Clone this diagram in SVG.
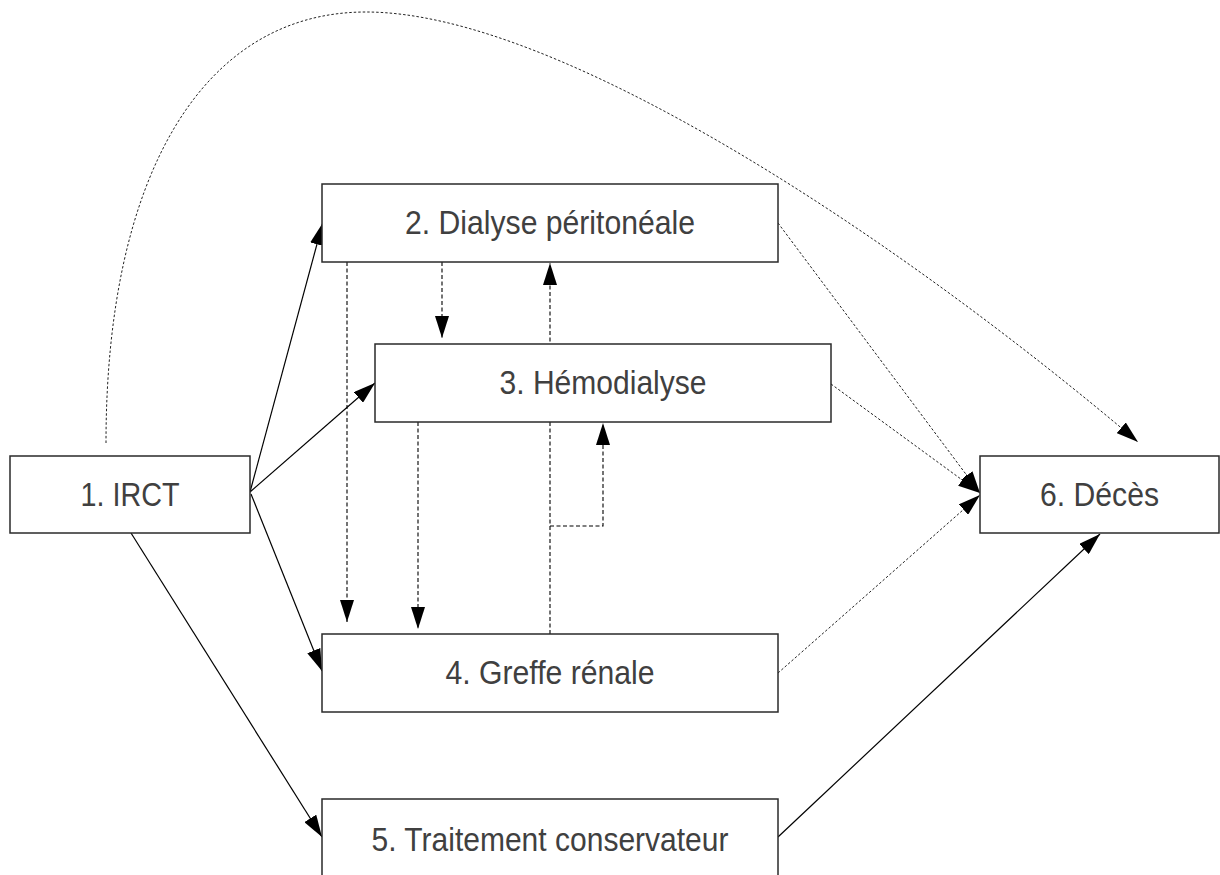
<svg xmlns="http://www.w3.org/2000/svg" width="1220" height="875" viewBox="0 0 1220 875">
  <defs>
    <marker id="arr" viewBox="0 0 22 14" refX="22" refY="7" markerWidth="22" markerHeight="14" markerUnits="userSpaceOnUse" orient="auto">
      <path d="M0,0 L22,7 L0,14 z" fill="#000"/>
    </marker>
    <style>
      .box { fill: #fff; stroke: #2a2a2a; stroke-width: 1.5; }
      .lbl { font-family: "Liberation Sans", Arial, sans-serif; font-size: 33px; fill: #404040; text-anchor: middle; }
      .solid { fill: none; stroke: #000; stroke-width: 1.2; marker-end: url(#arr); }
      .dash { fill: none; stroke: #000; stroke-width: 1.1; stroke-dasharray: 4 2.5; marker-end: url(#arr); }
      .dot { fill: none; stroke: #222; stroke-width: 1; stroke-dasharray: 2.5 2; marker-end: url(#arr); }
    </style>
  </defs>
  <rect width="1220" height="875" fill="#fff"/>
  <g id="connectors">
    <path id="e12" class="solid" d="M250,492 L322.7,223"/>
    <path id="e13" class="solid" d="M250,492 L375,383"/>
    <path id="e14" class="solid" d="M251,494 L322,671"/>
    <path id="e15" class="solid" d="M131,533 L322,837"/>
    <path id="e56" class="solid" d="M778,837 L1100,534"/>
    <path id="e23" class="dash" d="M442,262 L442,338"/>
    <path id="e24" class="dash" d="M347,262 L347,622"/>
    <path id="e34" class="dash" d="M418,422 L418,629"/>
    <path id="e42" class="dash" d="M550,634 L550,263"/>
    <path id="e43" class="dash" d="M550,526 L603,526 L603,423"/>
    <path id="e26" class="dot" d="M778,223 L980,493"/>
    <path id="e36" class="dot" d="M831,384 L980,493"/>
    <path id="e46" class="dot" d="M778,673 L980,495"/>
    <path id="e16" class="dot" d="M106,443 C106,180 200,12 366,12 C560,12 900,240 1138,442"/>
  </g>
  <g id="n1">
    <rect class="box" x="10" y="456" width="240" height="77"/>
    <text class="lbl" x="130" y="505.5" textLength="99" lengthAdjust="spacingAndGlyphs">1. IRCT</text>
  </g>
  <g id="n2">
    <rect class="box" x="322" y="184" width="456" height="78"/>
    <text class="lbl" x="550" y="234" textLength="290" lengthAdjust="spacingAndGlyphs">2. Dialyse péritonéale</text>
  </g>
  <g id="n3">
    <rect class="box" x="375" y="344" width="456" height="78"/>
    <text class="lbl" x="603" y="394" textLength="207" lengthAdjust="spacingAndGlyphs">3. Hémodialyse</text>
  </g>
  <g id="n4">
    <rect class="box" x="322" y="634" width="456" height="78"/>
    <text class="lbl" x="550" y="684" textLength="209" lengthAdjust="spacingAndGlyphs">4. Greffe rénale</text>
  </g>
  <g id="n5">
    <rect class="box" x="322" y="799" width="456" height="80"/>
    <text class="lbl" x="550" y="851" textLength="357" lengthAdjust="spacingAndGlyphs">5. Traitement conservateur</text>
  </g>
  <g id="n6">
    <rect class="box" x="980" y="456" width="239" height="77"/>
    <text class="lbl" x="1099.5" y="505.5" textLength="119" lengthAdjust="spacingAndGlyphs">6. Décès</text>
  </g>
</svg>
